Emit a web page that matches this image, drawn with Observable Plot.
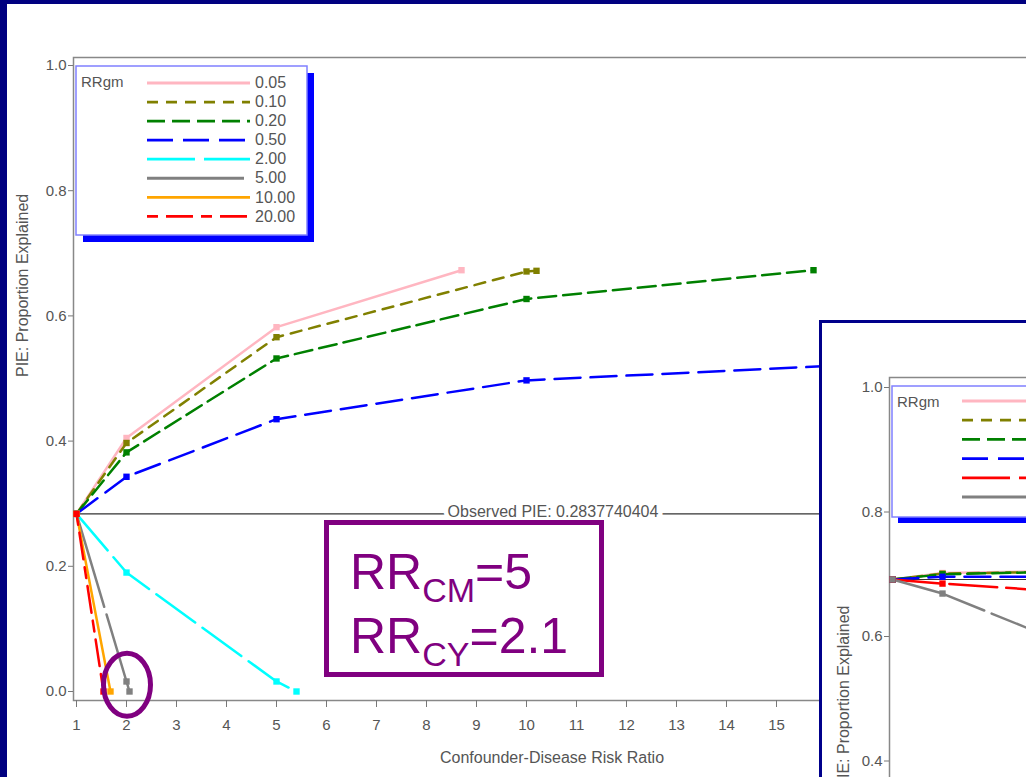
<!DOCTYPE html>
<html>
<head>
<meta charset="utf-8">
<script src="https://cdn.jsdelivr.net/npm/d3@7"></script>
<script src="https://cdn.jsdelivr.net/npm/@observablehq/plot@0.6"></script>
<style>
html, body { margin: 0; padding: 0; background: #000080; }
#slide { position: relative; width: 1026px; height: 777px; overflow: hidden; background: #000080; }
#paper { position: absolute; left: 7px; top: 4px; width: 1100px; height: 900px; background: #fff; }
#main { position: absolute; left: 0; top: 0; width: 1100px; height: 777px; }
#inset { position: absolute; left: 819px; top: 320px; width: 400px; height: 600px; background: #fff; border: 3px solid #00008b; overflow: hidden; }
#main svg, #inset svg { overflow: visible; max-width: none !important; display: block; }
</style>
</head>
<body>
<div id="slide">
  <div id="paper"></div>
  <div id="main"></div>
  <div id="inset"></div>
</div>
<script>
// ---------- data ----------
const seriesNames = ["0.05", "0.10", "0.20", "0.50", "2.00", "5.00", "10.00", "20.00"];
const seriesColors = ["#ffb6c1", "#808000", "#008000", "#0000ff", "#00ffff", "#808080", "#ffa500", "#ff0000"];
const seriesDashes = [null, "11,8", "18,7", "26,10", "48,9", "97,8", null, "11,8,27,8"];

const x_005 = [1, 2, 5, 8.7];        const y_005 = [0.2838, 0.405, 0.582, 0.673];
const x_010 = [1, 2, 5, 10, 10.2];   const y_010 = [0.2838, 0.397, 0.566, 0.671, 0.672];
const x_020 = [1, 2, 5, 10, 15.74];  const y_020 = [0.2838, 0.382, 0.532, 0.627, 0.673];
const x_050 = [1, 2, 5, 10, 20];     const y_050 = [0.2838, 0.343, 0.435, 0.497, 0.535];
const x_200 = [1, 2, 5, 5.4];        const y_200 = [0.2838, 0.190, 0.016, 0.0];
const x_500 = [1, 2, 2.06];          const y_500 = [0.2838, 0.016, 0.0];
const x_1000 = [1, 1.68];            const y_1000 = [0.2838, 0.0];
const x_2000 = [1, 1.54];            const y_2000 = [0.2838, 0.0];

const observedPIE = 0.2837740404;
const xTicks = [1, 2, 3, 4, 5, 6, 7, 8, 9, 10, 11, 12, 13, 14, 15, 16, 17, 18, 19];
const yTicks = [0.0, 0.2, 0.4, 0.6, 0.8, 1.0];
const xTitle = "Confounder-Disease Risk Ratio";
const yTitle = "PIE: Proportion Explained";
const legendTitle = "RRgm";

// inset chart (partially visible)
const insetColors = ["#ffb6c1", "#808000", "#008000", "#0000ff", "#ff0000", "#808080"];
const insetDashes = [null, "11,8", "18,7", "26,10", "48,9", "97,8"];
const insetX = [1, 2, 5];
const insetY_pink  = [0.6916, 0.702, 0.706];
const insetY_olive = [0.6916, 0.701, 0.705];
const insetY_green = [0.6916, 0.700, 0.705];
const insetY_blue  = [0.6916, 0.696, 0.696];
const insetY_red   = [0.6916, 0.685, 0.669];
const insetY_gray  = [0.6916, 0.669, 0.571];
const insetYTicks = [0.4, 0.6, 0.8, 1.0];

// ---------- build tables ----------
const xs = [x_005, x_010, x_020, x_050, x_200, x_500, x_1000, x_2000];
const ys = [y_005, y_010, y_020, y_050, y_200, y_500, y_1000, y_2000];
const series = seriesNames.map((name, i) => ({
  name, color: seriesColors[i], dash: seriesDashes[i],
  rows: xs[i].map((x, j) => ({x, y: ys[i][j]}))
}));
const insetYs = [insetY_pink, insetY_olive, insetY_green, insetY_blue, insetY_red, insetY_gray];
const insetSeries = insetYs.map((yy, i) => ({
  color: insetColors[i], dash: insetDashes[i],
  rows: insetX.map((x, j) => ({x, y: yy[j]}))
}));

const FONT = "'Liberation Sans', Arial, Helvetica, sans-serif";
const TXT = "#555";

function lineMarks(list) {
  const out = [];
  for (const s of list) {
    out.push(Plot.line(s.rows, {x: "x", y: "y", stroke: s.color, strokeWidth: 2.5,
      strokeDasharray: s.dash || undefined}));
  }
  for (const s of list) {
    out.push(Plot.dot(s.rows, {x: "x", y: "y", symbol: "square", fill: s.color, r: 3.6}));
  }
  return out;
}

// ---------- main chart ----------
const W = 1100, ML = 73;
const main = Plot.plot({
  width: W, height: 777,
  marginLeft: ML, marginRight: 0, marginTop: 57, marginBottom: 77,
  x: {domain: [0.94, 0.94 + (W - ML) / 50]},
  y: {domain: [-9 / 626, 1 + 8 / 626]},
  style: {fontFamily: FONT, fontSize: "15px", color: TXT, background: "transparent", maxWidth: "none"},
  marks: [
    Plot.frame({stroke: "#888", strokeWidth: 1.5}),
    Plot.axisX({ticks: xTicks, tickSize: 7, tickPadding: 12, label: null, stroke: "#777", fill: TXT, fontSize: 15}),
    Plot.axisY({ticks: yTicks, tickSize: 5, tickPadding: 2, tickFormat: d3.format(".1f"), label: null, stroke: "#777", fill: TXT, fontSize: 15}),
    Plot.ruleY([observedPIE], {stroke: "#333", strokeWidth: 1.2}),
    Plot.text([observedPIE], {y: d => d, text: d => `Observed PIE: ${d}`, frameAnchor: "middle", dx: -34,
      lineAnchor: "bottom", dy: 3, fill: TXT, stroke: "white", strokeWidth: 9, fontSize: 16}),
    ...lineMarks(series),
    Plot.text([xTitle], {frameAnchor: "bottom", dy: 62, dx: -35, fill: TXT, fontSize: 16}),
    Plot.text([yTitle], {frameAnchor: "left", rotate: -90, dx: -51, dy: -2, fill: TXT, fontSize: 16})
  ]
});
document.getElementById("main").appendChild(main);

function drawLegend(svgNode, o) {
  const g = d3.select(svgNode).append("g").attr("font-family", FONT).attr("text-anchor", "start");
  g.append("rect").attr("x", o.x + o.sh).attr("y", o.y + o.sh).attr("width", o.w).attr("height", o.h).attr("fill", "#0000ff");
  g.append("rect").attr("x", o.x).attr("y", o.y).attr("width", o.w).attr("height", o.h)
    .attr("fill", "#fff").attr("stroke", "#8080ff").attr("stroke-width", 1.5);
  g.append("text").attr("x", o.x + 5).attr("y", o.titleY).attr("dominant-baseline", "middle")
    .attr("font-size", 15).attr("fill", TXT).text(legendTitle);
  o.items.forEach((it, i) => {
    const yy = o.rowY + i * o.dy;
    g.append("line").attr("x1", o.lx1).attr("x2", o.lx2).attr("y1", yy).attr("y2", yy)
      .attr("stroke", it.color).attr("stroke-width", 2.8)
      .attr("stroke-dasharray", it.dash || null);
    if (it.name) {
      g.append("text").attr("x", o.lx2 + 5).attr("y", yy + 1).attr("dominant-baseline", "middle")
        .attr("font-size", 16).attr("fill", TXT).text(it.name);
    }
  });
}
drawLegend(main, {x: 76, y: 66, w: 231, h: 169, sh: 7, titleY: 83, rowY: 83, dy: 19.05,
  lx1: 147, lx2: 250, items: series});

// annotation: ellipse around RRgm=5.00 endpoint, and the purple note box
{
  const sx = main.scale("x"), sy = main.scale("y");
  const svg = d3.select(main);
  svg.append("ellipse").attr("cx", sx.apply(2.02)).attr("cy", sy.apply(0.01))
    .attr("rx", 23.5).attr("ry", 31.5).attr("fill", "none").attr("stroke", "#800080").attr("stroke-width", 5);
  svg.append("rect").attr("x", 326.5).attr("y", 522.5).attr("width", 275).attr("height", 152)
    .attr("fill", "#fff").attr("stroke", "#800080").attr("stroke-width", 5);
  const lines = [["RR", "CM", "=5"], ["RR", "CY", "=2.1"]];
  lines.forEach((l, i) => {
    const t = svg.append("text").attr("x", 350).attr("y", 589 + i * 64).attr("text-anchor", "start")
      .attr("font-family", FONT).attr("fill", "#800080").attr("font-size", 50);
    t.append("tspan").text(l[0]);
    t.append("tspan").attr("font-size", 34).attr("dy", 13).text(l[1]);
    t.append("tspan").attr("dy", -13).text(l[2]);
  });
}

// ---------- inset chart ----------
const IW = 400, IH = 460, IML = 67, IMT = 54;
const inset = Plot.plot({
  width: IW, height: IH,
  marginLeft: IML, marginRight: 0, marginTop: IMT, marginBottom: 0,
  x: {domain: [0.94, 0.94 + (IW - IML) / 50]},
  y: {domain: [1 - (783 - 387) / 622.5, 1 + 10 / 622.5]},
  style: {fontFamily: FONT, fontSize: "15px", color: TXT, background: "transparent", maxWidth: "none"},
  marks: [
    Plot.frame({stroke: "#888", strokeWidth: 1.5}),
    Plot.axisX({ticks: [], label: null}),
    Plot.axisY({ticks: insetYTicks, tickSize: 5, tickPadding: 2, tickFormat: d3.format(".1f"), label: null, stroke: "#777", fill: TXT, fontSize: 15}),
    Plot.ruleY([insetY_gray[0]], {stroke: "#333", strokeWidth: 1.2}),
    ...lineMarks(insetSeries),
    Plot.text([yTitle], {frameAnchor: "left", rotate: -90, textAnchor: "end", dx: -46, dy: 25, fill: TXT, fontSize: 16})
  ]
});
document.getElementById("inset").appendChild(inset);
drawLegend(inset, {x: 70, y: 63, w: 330, h: 131, sh: 6, titleY: 80, rowY: 78, dy: 19.2,
  lx1: 140, lx2: 243, items: insetSeries});
</script>
</body>
</html>
